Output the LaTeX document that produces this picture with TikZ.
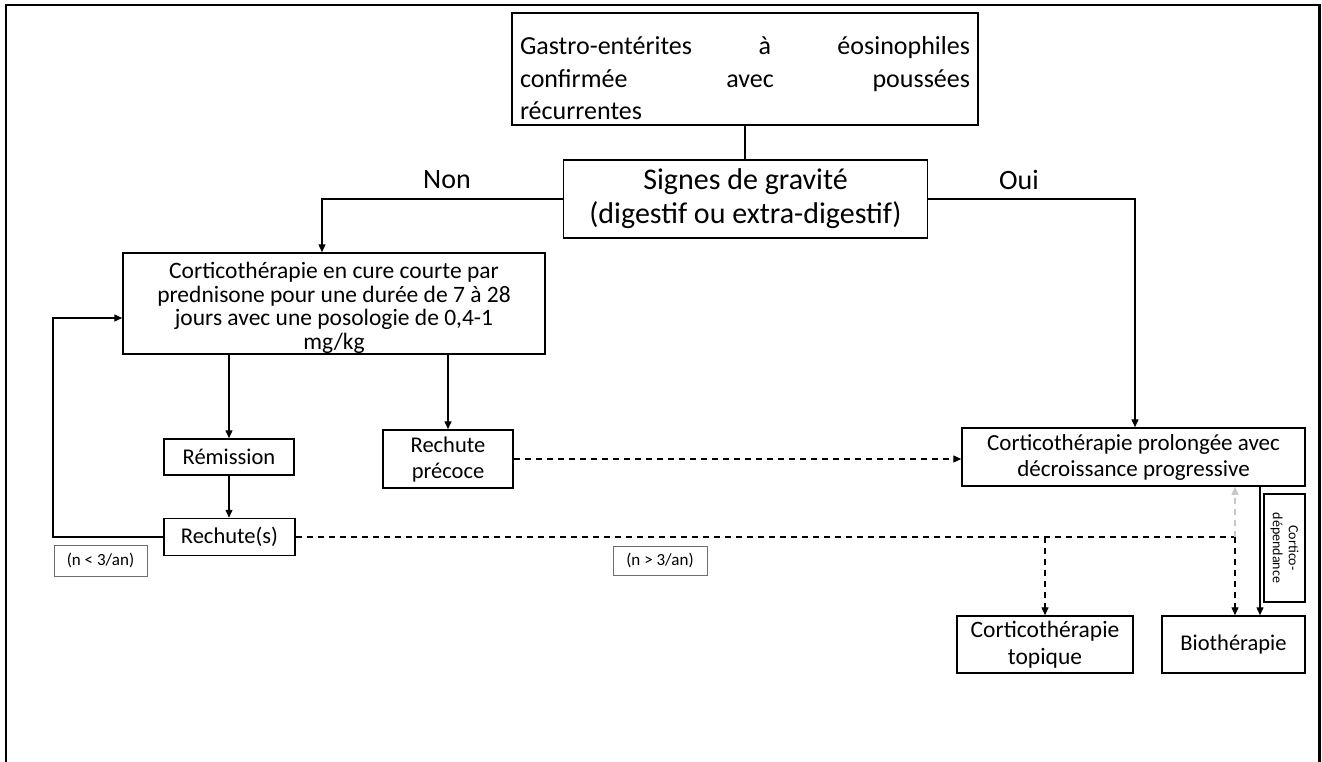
\documentclass[tikz,border=0pt]{standalone}
\usepackage{fontspec}
\setmainfont{Carlito}
\usetikzlibrary{arrows.meta,calc}
\definecolor{lgray}{RGB}{200,200,200}
\definecolor{tagborder}{RGB}{110,110,110}
\begin{document}
\begin{tikzpicture}[x=1pt,y=-1pt,
  box/.style={draw, line width=1.5pt, inner sep=0pt, align=center},
  tip/.style={-{Triangle[length=8pt,width=7pt]}},
  arr/.style={line width=1.4pt, tip},
  conn/.style={line width=1.4pt},
  dsh/.style={line width=1.4pt, dash pattern=on 6pt off 5pt},
  tag/.style={draw=tagborder, line width=1pt, inner sep=0pt, font=\fontsize{17}{20}\selectfont},
  t22/.style={font=\fontsize{22.5}{26}\selectfont},
]
\useasboundingbox (0,0) rectangle (1322,762);
\fill[white] (0,0) rectangle (1322,762);
\draw[line width=2.6pt, line join=miter] (6,762) -- (6,5) -- (1319.5,5) -- (1319.5,762);

% boxes
\node[box, minimum width=466pt, minimum height=112pt] (top) at (745,69) {};
\node[anchor=north, text width=450pt, align=left, inner sep=0pt, font=\fontsize{26}{32.5}\selectfont] (topt) at ([yshift=-24pt]top.north) {Gastro-entérites\hfill à\hfill éosinophiles\\confirmée\hfill avec\hfill poussées\\récurrentes};

\node[box, minimum width=364pt, minimum height=78pt, font=\fontsize{30}{34}\selectfont] (sig) at (745.5,199) {Signes de gravité\\(digestif ou extra-digestif)};

\node[font=\fontsize{28}{30}\selectfont] (non) at (447,180) {Non};
\node[font=\fontsize{28}{30}\selectfont] (oui) at (1019,180) {Oui};

\node[box, minimum width=422pt, minimum height=101pt] (cort) at (334,303.5) {};
\node[anchor=north, align=center, inner sep=0pt, font=\fontsize{23.5}{23.5}\selectfont] (cortt) at ([yshift=-10pt]cort.north) {Corticothérapie en cure courte par\\prednisone pour une durée de 7 à 28\\jours avec une posologie de 0,4-1\\mg/kg};

\node[box, t22, minimum width=130pt, minimum height=36pt] (rem) at (229,457) {Rémission};
\node[box, t22, minimum width=131pt, minimum height=37pt] (rechs) at (229.5,537) {Rechute(s)};
\node[box, t22, minimum width=130pt, minimum height=58pt] (prec) at (448,459) {Rechute\\précoce};
\node[box, font=\fontsize{23}{26}\selectfont, minimum width=343pt, minimum height=58pt] (prol) at (1133.5,457) {Corticothérapie prolongée avec\\décroissance progressive};
\node[box, font=\fontsize{23.5}{27}\selectfont, minimum width=176pt, minimum height=57pt] (topi) at (1045,644.5) {Corticothérapie\\topique};
\node[box, t22, minimum width=143pt, minimum height=57pt] (bio) at (1233.5,644.5) {Biothérapie};
\node[box, rotate=-90, minimum width=108pt, minimum height=41pt, font=\fontsize{14}{16}\selectfont] (cdep) at (1284.5,548) {Cortico-\\dépendance};

\node[tag, minimum width=93pt, minimum height=31pt] (n1) at (100.5,560.5) {(n < 3/an)};
\node[tag, minimum width=94pt, minimum height=29pt] (n2) at (660,560.5) {(n > 3/an)};

% connectors
\draw[conn] (top.south) -- (top.south |- sig.north);
\draw[arr] (sig.west) -| ([xshift=-12pt]cort.north);
\draw[arr] (sig.east) -| ([xshift=1.5pt]prol.north);
\draw[arr] (rem.north |- cort.south) -- (rem.north);
\draw[arr] (prec.north |- cort.south) -- (prec.north);
\draw[arr] (rem.south) -- (rem.south |- rechs.north);
\coordinate (fb) at (53,318);
\draw[arr] (rechs.west) -| (fb) -- (fb -| cort.west);
\draw[dsh, tip] (prec.east) -- (prec.east -| prol.west);
\coordinate (dj) at (1235,537);
\draw[dsh] (rechs.east) -- (dj);
\draw[dsh, tip] (topi.north |- dj) -- (topi.north);
\draw[dsh, tip] (dj) -- (dj |- bio.north);
\draw[dsh, draw=lgray, -{Triangle[length=8pt,width=7pt,fill=lgray]}] (dj) -- (dj |- prol.south);
\coordinate (cd) at (1260,0);
\draw[arr] (prol.south -| cd) -- (bio.north -| cd);
\end{tikzpicture}
\end{document}
